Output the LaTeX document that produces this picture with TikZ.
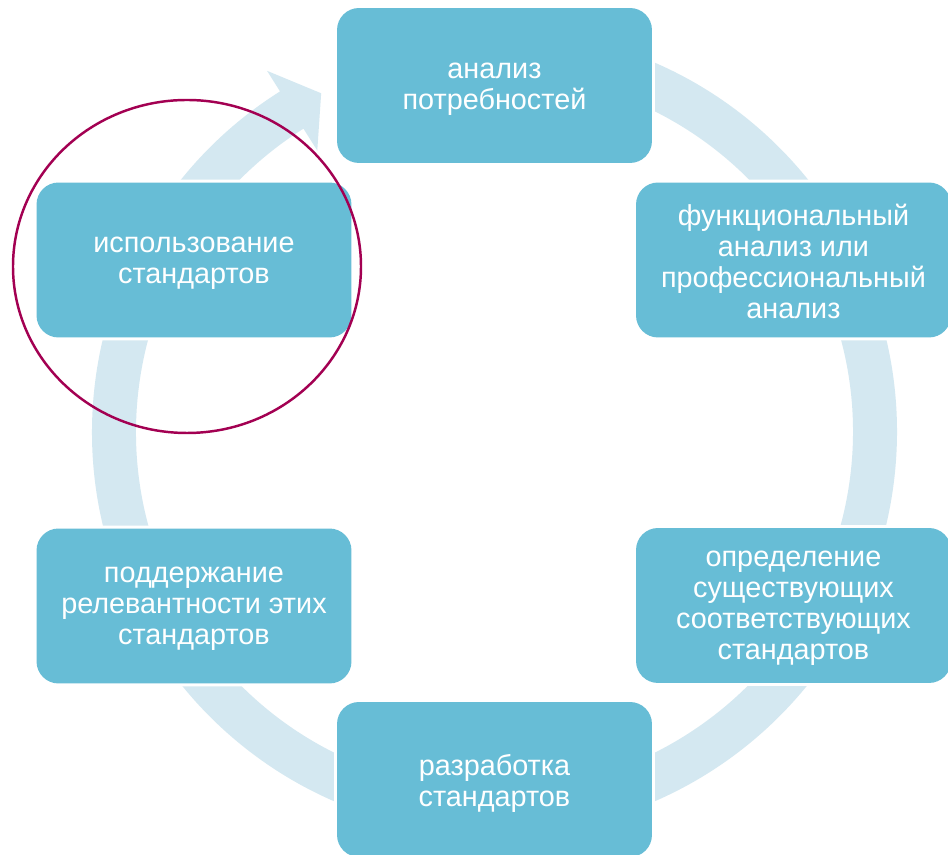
\documentclass[tikz,border=0pt]{standalone}
\usepackage{fontspec}
\setmainfont{Liberation Sans}
\definecolor{boxblue}{RGB}{103,189,214}
\definecolor{ringblue}{RGB}{212,232,241}
\definecolor{circred}{RGB}{163,0,82}
\tikzset{
  stagebox/.style={rectangle, rounded corners=0.44cm, fill=boxblue, draw=none,
    preaction={draw=white, line width=3.4pt},
    minimum width=6.3cm, minimum height=3.1cm, inner sep=0pt},
  stagetext/.style={inner sep=0pt, align=center, text=white,
    font=\fontsize{16.4}{17.6}\selectfont},
  ringband/.style={fill=ringblue, draw=none},
  highlight/.style={draw=circred, line width=1.4pt}
}
\begin{document}
\begin{tikzpicture}[x=0.02cm,y=0.02cm]
\useasboundingbox (0,0) rectangle (948,855);
\clip (0,0) rectangle (948,855);
\fill[white] (0,0) rectangle (948,855);
% circular arrow
\begin{scope}[shift={(494.5,423)}]
\path[ringband] (85:402.5) arc[start angle=85, end angle=-237.8, radius=402.5]
  -- (122.2:426.8) -- (117.1:380.5) -- (122.2:332.6) -- (122.2:358.5)
  arc[start angle=122.2, end angle=445, radius=358.5] -- cycle;
\end{scope}
% stages
\node[stagebox] (top) at (494.5,769.5) {};
\node[stagebox] (ru) at (793.5,595) {};
\node[stagebox] (rl) at (793.5,249.5) {};
\node[stagebox] (bot) at (494.5,75.5) {};
\node[stagebox] (ll) at (194,249) {};
\node[stagebox] (lu) at (194,595) {};
\node[stagetext] (topt) at ([yshift=-2pt]top.center) {анализ\\потребностей};
\node[stagetext] (rut) at ([yshift=-1pt]ru.center) {функциональный\\анализ или\\профессиональный\\анализ};
\node[stagetext] (rlt) at ([yshift=-1.5pt]rl.center) {определение\\существующих\\соответствующих\\стандартов};
\node[stagetext] (bott) at ([yshift=-2pt]bot.center) {разработка\\стандартов};
\node[stagetext] (llt) at ([yshift=-1.5pt]ll.center) {поддержание\\релевантности этих\\стандартов};
\node[stagetext] (lut) at ([yshift=-2pt]lu.center) {использование\\стандартов};
% highlight
\draw[highlight] (187,588.5) ellipse[x radius=174, y radius=166.5];
\end{tikzpicture}
\end{document}
